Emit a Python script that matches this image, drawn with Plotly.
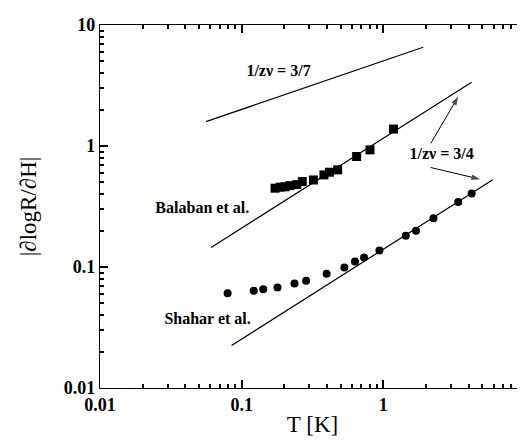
import plotly.graph_objects as go

# Balaban et al. (squares)
bal_T = [0.172, 0.187, 0.202, 0.219, 0.245, 0.268, 0.321, 0.381, 0.416, 0.476, 0.648, 0.805, 1.18]
bal_Y = [0.448, 0.457, 0.46, 0.47, 0.48, 0.508, 0.524, 0.577, 0.607, 0.635, 0.819, 0.929, 1.38]

# Shahar et al. (circles)
sha_T = [0.0796, 0.1216, 0.142, 0.179, 0.236, 0.285, 0.398, 0.531, 0.631, 0.731, 0.938, 1.44, 1.70, 2.26, 3.38, 4.20]
sha_Y = [0.0608, 0.0636, 0.0656, 0.0677, 0.0731, 0.0769, 0.0879, 0.099, 0.111, 0.120, 0.137, 0.181, 0.199, 0.253, 0.344, 0.405]

# Guide lines (endpoints)
line37_T = [0.056, 1.91]
line37_Y = [1.59, 6.55]
lineBal_T = [0.0608, 4.2]
lineBal_Y = [0.145, 3.37]
lineSha_T = [0.0849, 5.92]
lineSha_Y = [0.0225, 0.525]

# Labels
label_text = ["1/zν = 3/7", "Balaban et al.", "Shahar et al.", "1/zν = 3/4"]
label_T = [0.182, 0.0527, 0.0575, 2.58]
label_Y = [4.12, 0.30, 0.0366, 0.845]

# Arrows from the 3/4 label
arrow1_T = [2.16, 3.38]
arrow1_Y = [1.05, 2.56]
arrow2_T = [2.16, 4.81]
arrow2_Y = [0.664, 0.532]

font_family = "Liberation Serif, Times New Roman, serif"

fig = go.Figure()
for xs, ys in [(line37_T, line37_Y), (lineBal_T, lineBal_Y), (lineSha_T, lineSha_Y)]:
    fig.add_trace(go.Scatter(x=xs, y=ys, mode="lines", line=dict(color="black", width=1.2),
                             showlegend=False, hoverinfo="skip"))

fig.add_trace(go.Scatter(x=bal_T, y=bal_Y, mode="markers",
                         marker=dict(symbol="square", size=9, color="black"), showlegend=False))
fig.add_trace(go.Scatter(x=sha_T, y=sha_Y, mode="markers",
                         marker=dict(symbol="circle", size=8, color="black"), showlegend=False))

for xs, ys in [(arrow1_T, arrow1_Y), (arrow2_T, arrow2_Y)]:
    fig.add_trace(go.Scatter(x=xs, y=ys, mode="lines+markers", line=dict(color="black", width=1),
                             marker=dict(symbol=["circle", "arrow"], size=[0, 9], angleref="previous",
                                         color="black", line=dict(width=0)),
                             showlegend=False, hoverinfo="skip"))

fig.add_trace(go.Scatter(x=label_T, y=label_Y, mode="text", text=label_text,
                         textfont=dict(family=font_family, size=16, color="black", weight="bold"),
                         showlegend=False, hoverinfo="skip"))

tick_font = dict(family=font_family, size=18, color="black", weight="bold")
axis_common = dict(
    type="log", range=[-2, 1], dtick=1, showgrid=False, zeroline=False,
    showline=True, linecolor="black", linewidth=1.2,
    mirror="ticks", ticks="inside", ticklen=8, tickcolor="black", tickwidth=2,
    tickfont=tick_font,
    minor=dict(ticks="inside", ticklen=4, tickcolor="black", tickwidth=2, dtick="D1", showgrid=False),
)
title_font = dict(family=font_family, size=23, color="black")
fig.update_layout(
    xaxis=dict(title=dict(text="T [K]", font=title_font, standoff=2), **axis_common),
    yaxis=dict(title=dict(text="|∂logR/∂H|", font=title_font, standoff=20), **axis_common),
    width=525, height=443, margin=dict(l=92, r=8, t=17, b=63),
    plot_bgcolor="white", paper_bgcolor="white",
)
fig.write_html("out.html")
